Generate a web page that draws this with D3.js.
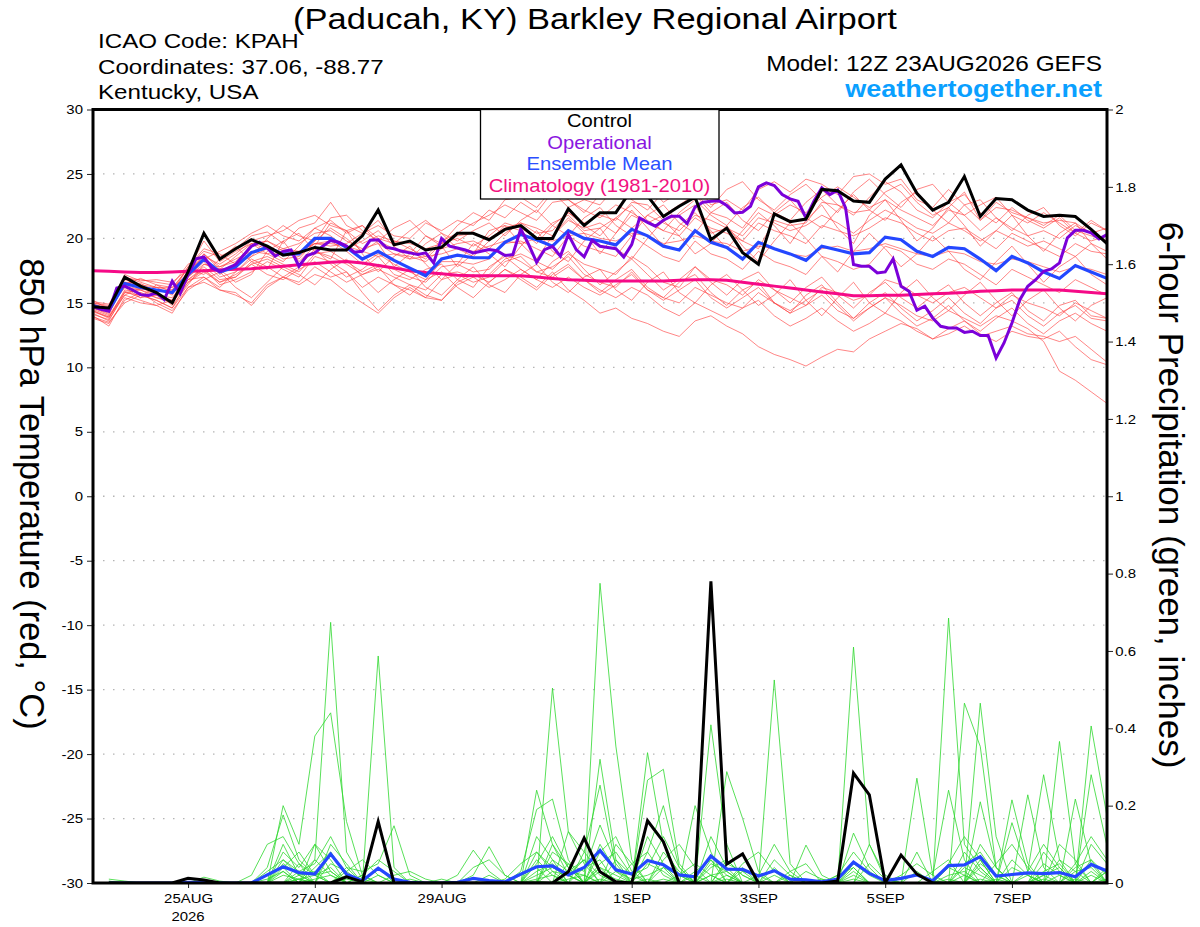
<!DOCTYPE html>
<html><head><meta charset="utf-8">
<script src="https://cdn.jsdelivr.net/npm/d3@7"></script>
<style>body{margin:0;background:#fff}svg{display:block}text{font-family:"Liberation Sans",Arial,Helvetica,sans-serif}</style>
</head><body><svg id="c" width="1200" height="927"></svg>
<script>
// ---------------- DATA ----------------
const modelStartUTC = Date.UTC(2026, 7, 23, 12);   // 12Z 23AUG2026, 6-hourly steps
const xTickDates = [[2026,7,25],[2026,7,27],[2026,7,29],[2026,8,1],[2026,8,3],[2026,8,5],[2026,8,7]];
const xTickLabels = ["25AUG","27AUG","29AUG","1SEP","3SEP","5SEP","7SEP"];
const tempTicks = [-30,-25,-20,-15,-10,-5,0,5,10,15,20,25,30];
const tempGrid = [-25,-20,-15,-10,-5,0,5,10,15,20,25];
const precipTicks = [0,0.2,0.4,0.6,0.8,1,1.2,1.4,1.6,1.8,2];

const controlTemp = [14.7,14.6,17.0,16.3,15.8,15.0,17.4,20.4,18.4,19.2,
 19.9,19.4,18.7,18.9,19.3,19.1,19.1,20.2,22.2,19.5,
 19.8,19.1,19.3,20.4,20.4,19.9,20.7,21.0,20.0,20.0,
 22.3,21.0,22.0,22.0,23.8,23.3,21.7,22.5,23.2,19.9,
 20.8,18.9,18.0,21.9,21.3,21.5,23.8,23.7,22.9,22.8,
 24.6,25.7,23.5,22.2,22.8,24.8,21.7,23.1,23.0,22.2,
 21.7,21.8,21.7,20.7,19.6];
const meanTemp = [14.8,14.4,16.5,16.2,16.0,15.8,17.2,18.4,17.4,17.8,
 18.9,19.3,18.8,18.8,20.0,20.0,19.3,18.4,19.0,18.3,
 17.7,17.1,18.4,18.7,18.5,18.5,19.7,20.3,19.9,19.4,
 20.6,20.0,19.8,19.5,20.7,20.2,19.4,19.1,20.6,19.7,
 19.3,18.4,19.7,19.2,18.8,18.3,19.4,19.1,18.8,18.9,
 20.1,19.9,19.0,18.6,19.3,19.2,18.4,17.5,18.6,18.1,
 17.4,16.9,17.9,17.4,16.9];
// operational run is 3-hourly
const operationalTemp = [14.7,14.5,14.35,16.16,16.3,16.0,15.64,15.57,15.77,15.25,
 16.68,15.72,17.2,18.41,18.56,17.71,17.45,17.7,17.97,18.7,
 19.39,19.7,19.26,18.62,19.0,19.1,17.84,18.67,18.88,19.4,
 19.83,19.7,19.4,18.93,19.0,19.86,19.9,19.3,19.2,19.0,
 18.88,18.75,18.88,18.1,19.99,19.4,19.26,19.1,18.88,19.0,
 19.13,19.05,18.67,18.75,20.74,19.52,18.15,19.13,19.39,18.62,
 20.3,19.13,18.57,19.86,19.39,19.3,19.2,18.56,19.52,21.59,
 21.25,20.95,21.41,21.72,21.72,21.15,22.44,22.8,22.88,22.93,
 22.55,21.98,22.03,22.5,24.0,24.31,24.1,23.4,23.07,22.88,
 21.59,22.88,23.92,23.4,23.74,22.37,17.97,17.84,17.84,17.32,
 17.4,18.41,16.29,15.9,14.43,14.74,13.83,13.18,13.05,13.05,
 12.71,12.8,12.46,12.46,10.73,11.89,13.44,15.25,16.29,16.8,
 17.45,17.63,18.1,20.04,20.63,20.63,20.43,19.96,20.3];
const climatologyTemp = [17.5,17.45,17.4,17.35,17.35,17.4,17.45,17.5,17.55,17.6,
 17.65,17.75,17.85,17.95,18.05,18.15,18.2,18.1,17.9,17.7,
 17.5,17.35,17.25,17.15,17.1,17.1,17.1,17.1,17.0,16.9,
 16.8,16.75,16.7,16.7,16.7,16.7,16.7,16.75,16.8,16.8,
 16.75,16.6,16.45,16.3,16.15,16.0,15.85,15.7,15.55,15.55,
 15.6,15.6,15.65,15.7,15.75,15.8,15.9,15.95,16.0,16.0,
 16.0,16.0,15.9,15.8,15.7];

// ensemble members, 850 hPa temperature
const memT01 = [15.0,14.8,17.0,16.6,16.2,16.0,17.8,19.0,18.6,19.2, 20.2,20.5,19.6,20.8,21.2,22.8,21.0,20.4,21.0,20.2, 20.0,21.2,20.6,21.4,21.0,22.2,21.6,22.8,22.0,23.6, 22.4,23.0,22.6,24.0,23.2,24.2,22.8,23.6,24.4,22.6, 23.0,22.2,23.8,24.4,23.6,24.6,24.2,23.4,24.8,25.0, 24.2,24.6,23.0,22.4,23.8,22.6,21.4,22.8,22.0,21.6, 21.0,21.8,20.6,20.2,19.8];
const memT02 = [14.2,13.6,15.8,15.6,15.2,14.6,16.6,17.6,16.4,16.8, 17.4,18.2,17.6,17.0,18.6,18.2,17.4,16.2,17.0,16.4, 16.0,15.4,16.8,17.2,16.6,17.0,18.2,18.6,17.4,17.8, 18.6,17.2,16.6,16.2,17.4,16.0,15.4,15.0,16.2,15.6, 15.0,14.6,15.8,15.0,14.2,14.8,15.6,14.4,13.8,14.6, 15.4,14.8,14.0,13.6,14.4,13.8,13.2,14.0,13.6,13.0, 12.0,9.7,9.0,8.1,7.2];
const memT03 = [14.0,13.2,15.4,15.0,14.8,14.2,16.2,17.0,16.0,15.6, 15.0,16.4,17.0,16.6,17.8,17.0,17.4,15.8,14.4,15.6, 16.4,15.6,15.2,16.6,17.2,16.6,17.6,17.0,16.2,17.4, 16.0,15.2,14.2,14.6,13.8,13.4,12.8,12.4,13.6,14.0, 13.2,12.6,11.6,11.0,10.6,10.1,10.8,11.4,11.2,12.2, 12.8,13.4,13.0,12.2,12.6,13.2,12.4,12.8,13.2,12.6, 12.4,12.0,12.4,11.4,10.4];
const memT04 = [14.9,14.6,16.8,16.4,16.2,15.6,17.4,18.8,17.8,18.2, 19.4,19.8,19.2,19.6,20.4,20.6,19.8,19.2,19.6,18.8, 18.6,18.2,19.2,19.6,19.8,19.2,20.4,21.2,20.8,20.2, 21.4,20.8,21.2,20.4,21.8,21.2,20.6,20.2,21.6,20.8, 20.4,19.8,21.2,20.6,20.2,19.6,21.0,20.6,20.2,20.8, 21.6,21.2,20.4,19.8,20.6,20.8,20.0,19.2,20.4,19.8, 19.2,18.6,19.6,19.0,18.8];
const memT05 = [14.4,13.8,16.0,15.8,15.4,15.2,16.8,17.8,16.8,17.0, 18.0,18.4,17.8,18.0,19.0,18.6,18.0,17.2,17.6,17.0, 16.4,16.0,17.2,17.4,17.0,17.2,18.4,18.8,18.2,17.6, 18.8,18.0,17.6,17.2,18.6,17.8,16.6,16.2,17.8,16.8, 16.4,15.6,16.8,16.0,15.4,14.8,16.2,15.8,15.2,15.6, 16.8,16.4,15.6,15.0,15.8,16.2,15.4,14.6,15.6,15.0, 14.6,14.0,15.0,14.4,13.8];
const memT06 = [15.1,14.9,16.9,16.8,16.6,16.4,18.0,18.6,18.0,18.8, 19.8,20.2,20.6,21.4,21.8,21.0,20.6,19.6,20.2,19.8, 19.2,18.6,19.8,20.4,21.2,21.8,22.6,22.0,21.4,22.8, 23.0,22.2,21.6,22.6,22.0,21.2,21.8,22.6,23.4,22.0, 21.6,20.8,22.4,21.8,22.6,22.0,23.2,24.0,23.2,22.4, 23.0,22.2,21.6,21.0,22.2,21.8,20.6,21.6,20.8,20.2, 20.6,20.0,21.0,20.4,20.8];
const memT07 = [14.6,14.2,16.4,16.0,15.6,15.4,17.0,18.2,17.0,17.4, 18.6,19.2,18.4,18.6,19.6,19.8,19.0,18.0,18.8,18.0, 17.4,16.8,18.2,18.2,18.0,18.4,19.6,19.8,19.2,18.6, 20.2,19.4,19.0,18.6,20.2,19.4,18.6,18.2,19.8,18.8, 18.4,17.6,19.0,18.2,17.8,17.2,18.6,18.2,17.6,18.0, 19.4,19.0,18.0,17.6,18.4,18.0,17.2,16.4,17.6,17.0, 16.4,15.8,16.8,16.2,15.6];
const memT08 = [14.3,13.9,15.6,16.2,15.8,14.8,16.4,18.0,17.6,16.6, 17.2,19.0,19.8,18.2,19.4,21.2,20.6,18.8,17.4,18.6, 19.4,18.0,16.8,18.0,19.6,18.8,17.8,19.4,20.6,19.0, 18.2,19.8,20.8,19.2,18.4,20.0,21.4,20.2,18.8,19.6, 21.0,19.4,18.2,19.8,21.2,20.0,18.6,17.4,19.0,20.4, 19.2,17.8,18.8,20.2,19.0,17.6,16.8,18.2,19.4,18.0, 16.6,17.8,18.6,17.2,16.4];
const memT09 = [15.2,14.5,16.2,15.4,16.4,16.2,17.6,17.2,18.4,19.4, 18.2,17.6,19.8,20.4,19.0,18.4,20.6,21.0,19.6,17.8, 18.8,20.2,19.4,17.8,18.8,20.6,21.0,19.6,18.4,20.2, 21.6,20.4,18.8,20.4,22.2,20.8,19.4,21.0,22.0,20.6, 19.2,20.6,22.0,21.0,19.6,21.4,22.6,20.8,19.6,21.8, 23.0,21.4,19.8,20.8,22.4,21.0,19.4,20.6,21.8,20.2, 19.0,20.4,21.2,19.6,18.4];
const memT10 = [13.8,13.4,15.2,15.8,15.0,14.4,16.0,16.8,17.4,16.2, 15.4,16.6,17.8,17.2,16.4,17.6,18.4,17.0,15.8,16.8, 17.6,16.2,15.6,16.8,17.8,16.4,15.8,17.2,18.0,16.6, 15.8,17.0,17.6,16.0,15.2,16.6,17.4,15.8,15.0,16.4, 17.2,16.0,14.8,15.6,16.8,15.2,14.0,15.4,16.6,15.0, 14.2,15.8,16.8,15.4,14.4,15.6,16.6,15.2,14.0,15.2, 16.0,14.6,13.6,14.8,15.4];
const memT11 = [14.7,14.3,16.6,16.5,15.9,16.0,17.4,18.6,17.2,18.0, 19.6,18.8,18.2,19.4,20.8,20.2,19.2,19.8,20.6,19.4, 18.4,19.6,20.4,19.2,18.6,19.8,21.0,20.6,19.6,21.0, 22.0,21.0,20.2,21.6,22.6,21.4,20.6,22.0,23.0,21.8, 21.0,22.4,23.2,22.0,21.4,22.8,23.8,22.6,21.8,23.2, 24.4,23.6,22.2,21.6,22.8,23.4,22.0,21.2,22.4,21.4, 20.8,21.6,20.4,19.8,20.2];
const memT12 = [14.5,14.0,15.9,15.4,15.6,15.0,16.6,17.4,16.6,17.2, 18.0,17.2,16.8,17.6,18.2,17.4,16.6,17.2,17.8,16.4, 15.6,16.8,17.4,16.2,15.4,16.6,17.6,16.8,16.0,17.2, 18.0,16.8,15.8,16.8,17.6,16.2,15.4,16.6,17.2,15.8, 14.8,16.0,16.6,15.0,14.2,15.6,16.4,15.0,13.8,15.0, 15.8,14.6,13.6,14.4,15.4,14.2,13.4,14.6,15.2,14.0, 13.2,14.2,14.8,13.8,13.6];
const memT13 = [14.8,14.6,16.2,16.0,16.2,16.2,17.0,18.0,17.8,18.4, 19.0,18.8,19.2,19.0,19.6,19.6,19.4,19.0,18.6,18.8, 18.4,18.6,18.8,19.2,19.0,19.4,19.8,19.6,20.0,19.8, 20.2,20.4,20.0,19.8,20.4,20.2,19.6,19.8,20.2,19.8, 19.6,19.0,19.4,19.2,18.8,18.6,19.2,19.4,19.0,19.2, 19.6,19.2,18.8,18.6,19.0,18.8,18.2,18.0,18.4,18.2, 17.8,17.4,17.8,17.6,17.2];
const memT14 = [15.0,14.7,16.4,16.9,16.4,15.8,17.8,19.2,18.8,18.0, 18.6,20.0,21.0,20.2,19.8,21.6,21.8,20.6,19.8,20.8, 21.4,20.2,19.6,21.0,22.0,21.4,23.0,23.2,22.4,23.8, 23.0,22.0,23.4,24.2,23.0,22.2,23.6,24.6,23.4,22.4, 23.8,24.4,23.0,22.2,23.4,24.2,23.0,22.0,23.6,24.6, 23.4,22.4,23.8,24.2,22.8,21.8,22.6,23.2,21.8,21.2, 22.0,21.2,20.4,21.4,20.6];
const memT15 = [14.1,13.7,15.6,15.2,14.8,15.2,16.8,17.0,16.2,17.4, 18.4,17.8,17.0,17.8,19.2,18.0,17.0,17.6,18.6,17.2, 16.8,17.6,18.0,16.8,16.2,17.8,18.6,17.6,16.8,18.2, 19.0,17.6,16.4,17.4,18.4,17.2,16.0,16.8,17.8,16.6, 15.6,16.8,17.4,16.0,15.0,16.2,17.0,15.6,14.6,15.8, 16.6,15.4,14.6,15.6,16.4,15.0,14.0,15.0,15.8,14.4, 13.6,14.8,15.2,14.0,13.8];
const memT16 = [14.9,14.5,17.2,16.7,16.8,16.6,17.6,18.4,19.0,19.6, 20.4,21.0,20.2,19.8,20.8,21.4,20.4,21.0,20.0,19.6, 20.6,21.4,20.4,19.8,20.6,21.2,20.2,21.4,22.2,21.0, 20.2,21.6,22.4,21.0,20.2,21.8,22.6,21.2,20.4,22.0, 22.8,21.4,20.6,22.0,23.0,21.6,20.8,22.2,23.4,22.2, 21.4,22.8,23.6,22.2,21.2,22.6,23.0,21.6,20.6,21.8, 22.4,21.0,20.2,21.2,20.6];
const memT17 = [13.9,13.5,15.0,15.6,15.2,14.6,16.2,16.6,16.0,15.8, 14.8,16.2,17.0,16.4,17.2,16.8,15.8,15.0,14.2,15.4, 16.2,15.4,15.2,16.4,17.0,16.2,16.8,17.6,16.8,16.2, 17.0,16.2,15.6,16.4,17.2,16.0,15.2,16.0,16.8,15.4, 14.6,15.4,16.2,15.0,14.4,15.2,16.0,14.8,13.6,14.6, 15.4,14.2,13.2,13.8,14.8,13.6,12.8,13.8,14.6,13.4, 12.6,13.6,14.2,13.4,12.8];
const memT18 = [14.6,14.1,16.6,16.3,16.0,15.9,17.0,18.8,17.6,18.6, 19.6,19.8,19.0,18.4,19.8,20.8,20.0,19.0,19.8,19.2, 19.0,18.4,19.6,20.0,19.4,20.2,21.2,20.8,20.0,21.2, 21.8,20.6,20.8,21.6,20.8,21.8,21.2,20.6,21.8,21.4, 20.8,20.2,21.6,21.2,20.6,21.0,21.8,21.2,20.4,21.4, 22.2,21.6,20.8,20.4,21.2,20.6,19.8,20.6,20.0,19.4, 19.8,19.2,18.6,19.6,19.0];
const memT19 = [14.4,13.9,15.8,16.0,15.4,15.0,16.8,17.6,16.6,17.0, 18.2,18.6,18.0,17.4,18.8,19.0,18.2,17.4,18.0,17.6, 17.0,16.6,17.8,18.0,17.4,17.6,18.8,18.2,17.4,17.0, 17.8,16.8,16.0,15.4,16.2,15.6,14.6,14.0,15.0,14.4, 13.8,14.6,15.2,14.0,13.2,13.8,14.6,13.6,12.8,13.4, 14.2,13.6,12.8,12.2,13.0,13.6,12.6,12.0,12.8,12.4, 12.2,12.8,11.6,10.6,10.2];
const memT20 = [14.8,14.4,16.9,16.2,15.6,15.2,17.6,19.8,18.2,19.0, 19.6,19.2,18.8,19.0,19.6,19.4,19.6,20.4,21.4,19.8, 19.6,19.2,19.6,20.2,20.4,20.0,20.8,21.2,20.4,20.6, 22.0,21.2,21.8,21.4,22.8,22.6,21.4,21.8,22.6,20.4, 20.8,19.8,19.2,21.4,21.0,21.2,22.8,22.6,22.0,22.2, 23.6,24.2,22.8,21.8,22.4,23.6,21.4,22.4,22.2,21.6, 21.2,21.4,21.2,20.4,19.8];
const tempMembers = [memT01,memT02,memT03,memT04,memT05,memT06,memT07,memT08,memT09,memT10,
                     memT11,memT12,memT13,memT14,memT15,memT16,memT17,memT18,memT19,memT20];

// 6-hour precipitation (first value = 6 h after model start)
const controlPrecip = [0,0,0,0,0,0.012,0.008,0, 0,0,0,0,0,0,0,0.016, 0.003,0.159,0,0,0,0,0,0, 0,0,0,0,0,0.029,0.116,0.029, 0.003,0,0.161,0.107,0,0,0.78,0.049, 0.075,0,0,0,0,0,0.005,0.284, 0.228,0,0.072,0.023,0,0,0,0, 0,0,0,0,0,0,0,0];
const meanPrecip = [0,0,0,0,0,0.002,0.002,0, 0,0,0.021,0.042,0.027,0.023,0.075,0.023, 0.006,0.038,0.01,0.002,0,0,0.002,0.012, 0.006,0.003,0.023,0.042,0.044,0.021,0.04,0.084, 0.034,0.023,0.058,0.047,0.021,0.016,0.07,0.036, 0.035,0.018,0.032,0.01,0.008,0.003,0.01,0.054, 0.025,0.006,0.012,0.021,0.006,0.045,0.047,0.068, 0.018,0.022,0.026,0.024,0.027,0.016,0.048,0.031];
const memP01 = [0,0,0,0,0,0,0,0, 0,0,0,.05,.02,.06,.674,.08, .01,0,0,0,0,0,0,0, 0,0,0,.05,.12,.04,0,.1, .03,0,0,0,0,0,.06,.02, 0,0,0,0,0,0,0,.04, 0,0,0,0,0,.685,.1,.04, 0,0,0,.05,.02,0,0,0];
const memP02 = [0,0,0,0,0,0,0,0, 0,0,0,.2,.1,.38,.44,.159, .02,0,0,0,0,0,0,.02, .094,.02,0,0,.504,.133,.05,0, 0,0,.08,.2,.04,0,0,0, 0,0,.525,.05,0,0,0,0, 0,0,0,.08,0,0,0,.465, .12,0,0,0,0,0,.28,.096];
const memP03 = [0,0,0,0,0,0,0,0, 0,0,.04,.176,.06,.02,0,0, 0,.587,.04,0,0,0,0,0, 0,0,0,.24,.1,.02,0,.775, .354,.06,0,0,0,0,.409,.1, 0,0,0,0,0,0,0,.61, .1,.01,0,0,0,0,.465,.353, .04,0,0,0,.366,.05,0,0];
const memP04 = [0,0,0,0,0,0,0,0, 0,.02,.1,.12,.05,0,0,.04, .03,.05,.148,.02,0,0,0,0, 0,0,.03,.19,.217,.06,0,.32, .06,0,.337,.1,.02,0,0,.288, .167,.03,0,0,0,0,0,0, 0,0,0,.271,.02,.24,.06,0, 0,.215,.05,0,0,0,.406,.172];
const memP05 = [.01,.005,0,0,0,0,0,0, 0,0,0,.08,.04,.1,.06,0, 0,0,0,0,0,0,.02,.085, .03,0,0,0,0,.133,.08,.253, .04,0,.266,.294,.05,0,0,0, 0,0,0,0,.098,.02,0,0, 0,0,0,0,0,0,0,.21, .04,0,.228,.04,0,.217,.05,0];
const memP06 = [0,0,0,0,0,0,.015,.005, 0,0,0,0,.03,.05,.12,.04, 0,0,0,0,0,0,0,0, 0,0,0,.08,.04,.02,.06,0, 0,0,0,0,0,.2,.08,0, 0,0,0,0,0,0,0,.129, .04,0,0,0,0,0,0,0, 0,.156,.03,.28,.06,0,0,.03];
const memP07 = [0,0,0,0,0,0,0,0, 0,0,.03,.06,.02,0,.1,.05, 0,0,0,0,0,0,0,0, 0,0,0,0,.06,.03,.02,0, .1,.05,0,.06,.1,.04,0,0, .05,.08,.03,0,0,0,0,0, .1,.02,0,0,0,0,.08,.03, 0,0,0,0,.1,.06,0,0];
const memP08 = [0,0,0,0,0,0,0,0, 0,0,0,.04,.08,.02,0,0, .02,.06,.03,0,0,0,0,0, 0,0,0,.12,.06,0,0,.08, .12,.03,0,0,0,0,.05,.03, 0,0,.06,.02,0,0,0,0, 0,0,0,0,0,.05,.12,.06, 0,0,0,.08,.03,0,.1,.05];
const memP09 = [0,0,0,0,0,0,0,0, 0,0,.01,.03,0,.04,.08,.02, 0,0,0,0,0,0,0,0, 0,.01,.05,.08,.03,0,.04,.06, 0,0,.12,.05,0,0,0,.06, .02,0,0,0,0,0,.02,.08, .03,0,0,0,0,0,0,.1, .04,0,0,0,0,.05,.12,.06];
const memP10 = [0,0,0,0,0,0,0,0, 0,0,0,0,.05,.02,.04,0, 0,0,.02,.03,.01,0,0,0, 0,0,0,0,.08,.05,0,.04, .02,0,0,.08,.03,0,.12,.04, 0,0,0,.03,.05,0,0,0, 0,0,0,0,.03,.06,0,0, .05,.1,.04,0,.06,.03,0,0];
const memP11 = [0,0,0,0,0,0,0,0, 0,0,0,.1,.02,0,0,.03, .06,.02,0,0,0,0,0,.04, .06,.02,0,.03,.05,0,.08,.03, 0,.05,.08,.02,0,0,0,0, .04,0,0,0,0,0,0,0, 0,0,.02,.05,.02,0,0,.06, 0,0,.03,.1,.04,0,0,0];
const memP12 = [0,0,0,0,0,0,0,0, 0,0,0,0,0,.1,.03,0, 0,.02,0,0,0,0,0,0, 0,0,.02,.04,0,.05,.03,.15, .05,0,0,0,0,.03,.06,0, 0,.02,.1,.03,0,0,0,.05, .02,0,0,0,0,0,.04,.02, 0,0,0,0,0,0,.06,.02];
const memP13 = [0,0,0,0,0,0,0,0, 0,0,0,.06,.03,0,.08,.02, 0,0,0,0,0,.01,0,0, 0,0,0,0,.1,.04,0,0, .06,.02,.04,.12,.04,0,0,.05, .03,0,0,0,.03,.01,0,0, 0,0,0,0,0,.02,.03,0, 0,.06,.02,0,0,.04,.06,0];
const memP14 = [0,0,0,0,0,0,0,0, 0,0,.02,.04,0,.06,.02,0, 0,0,0,0,0,0,0,0, 0,0,0,.02,.04,.02,0,.05, .08,.02,0,0,.02,.05,.02,0, 0,0,0,0,0,0,0,.03, 0,0,0,0,0,0,0,.05, .02,0,0,.03,.05,0,0,.04];
const memP15 = [0,0,0,0,0,0,0,0, 0,0,0,0,.02,.03,0,0, 0,.04,0,0,0,0,0,0, .02,0,0,0,0,.03,.06,.02, 0,0,.05,.03,0,0,.04,.06, .02,0,.04,0,0,0,.02,.04, 0,0,0,0,0,0,.05,.08, .02,0,0,.02,.04,0,.03,0];
const memP16 = [0,0,0,0,0,0,0,0, 0,0,0,.03,0,0,.05,.03, 0,0,0,.01,0,0,0,0, 0,0,0,.06,.02,0,0,.04, 0,0,0,.04,.02,0,.02,.03, 0,0,0,.02,0,0,0,0, .05,.01,0,0,0,.04,.02,0, 0,.04,.02,0,0,.03,.04,0];
const memP17 = [0,0,0,0,0,0,0,0, 0,0,0,0,.01,.02,.03,0, .02,0,0,0,0,0,0,0, 0,0,0,0,.03,.02,0,0, .03,.01,.02,.04,0,0,0,0, .03,.02,0,0,0,0,0,.02, 0,0,0,.03,0,0,0,.04, 0,0,0,.02,0,0,0,.03];
const memP18 = [0,0,0,0,0,0,0,0, 0,0,0,.02,.01,0,0,.02, 0,0,0,0,0,0,0,0, 0,0,0,.01,.02,0,0,.03, .01,0,0,0,0,.02,0,.02, 0,0,.02,0,0,0,0,0, 0,0,0,0,0,0,.02,0, 0,0,.02,0,.02,0,.02,0];
const memP19 = [.005,0,0,0,0,0,0,0, 0,0,0,0,0,.01,.02,0, 0,0,0,0,0,0,0,0, 0,0,0,0,0,.01,.02,0, 0,0,0,.01,0,0,.02,0, 0,0,0,0,0,.01,0,0, 0,0,0,0,0,.01,0,0, .01,0,0,0,0,.01,0,0];
const memP20 = [0,0,0,0,0,0,0,.003, 0,0,0,0,.01,0,0,.01, 0,0,0,0,0,0,0,0, 0,0,0,.005,0,0,0,.01, 0,0,.01,0,0,0,0,.01, 0,0,0,0,0,0,0,.01, 0,0,0,0,0,0,0,.01, 0,0,0,.01,0,0,0,.01];
const precipMembers = [memP01,memP02,memP03,memP04,memP05,memP06,memP07,memP08,memP09,memP10,
                       memP11,memP12,memP13,memP14,memP15,memP16,memP17,memP18,memP19,memP20];

// ---------------- DRAW ----------------
const svg = d3.select("#c");
const L = 93, R = 1107, T = 109.5, B = 883;
const SX = 1.15; // horizontal glyph stretch seen in the reference
const HOUR = 3600e3;
const t6 = i => new Date(modelStartUTC + i * 6 * HOUR);
const t3 = j => new Date(modelStartUTC + j * 3 * HOUR);

const x = d3.scaleUtc().domain([t6(0), t6(64)]).range([L, R]);
const yT = d3.scaleLinear().domain([-30, 30]).range([B, T]);
const yP = d3.scaleLinear().domain([0, 2]).range([B, T]);

svg.append("rect").attr("width", 1200).attr("height", 927).attr("fill", "#fff");
svg.append("defs").append("clipPath").attr("id", "plot")
  .append("rect").attr("x", L).attr("y", T).attr("width", R - L).attr("height", B - T);

// grid
svg.append("g").selectAll("line").data(tempGrid).join("line")
  .attr("x1", L).attr("x2", R).attr("y1", d => yT(d)).attr("y2", d => yT(d))
  .attr("stroke", "#b4b4b4").attr("stroke-width", 1.3).attr("stroke-dasharray", "1.5,8.5");

const g = svg.append("g").attr("clip-path", "url(#plot)");
const lineT = d3.line().x((d, i) => x(t6(i))).y(d => yT(d));
const lineOp = d3.line().x((d, i) => x(t3(i))).y(d => yT(d));
const lineP = d3.line().x((d, i) => x(t6(i + 1))).y(d => yP(d));

g.append("g").selectAll("path").data(tempMembers).join("path")
  .attr("d", lineT).attr("fill", "none").attr("stroke", "#ff3c3c")
  .attr("stroke-width", 0.8).attr("stroke-opacity", 0.78);
g.append("g").selectAll("path").data(precipMembers).join("path")
  .attr("d", lineP).attr("fill", "none").attr("stroke", "#2ed82e")
  .attr("stroke-width", 0.8);

g.append("path").datum(climatologyTemp).attr("d", lineT).attr("fill", "none")
  .attr("stroke", "#f50a87").attr("stroke-width", 3);
g.append("path").datum(meanTemp).attr("d", lineT).attr("fill", "none")
  .attr("stroke", "#2447ff").attr("stroke-width", 3.2);
g.append("path").datum(operationalTemp).attr("d", lineOp).attr("fill", "none")
  .attr("stroke", "#7b00d9").attr("stroke-width", 3);
g.append("path").datum(controlTemp).attr("d", lineT).attr("fill", "none")
  .attr("stroke", "#000").attr("stroke-width", 3);
g.append("path").datum(meanPrecip).attr("d", lineP).attr("fill", "none")
  .attr("stroke", "#2447ff").attr("stroke-width", 3.2);
g.append("path").datum(controlPrecip).attr("d", lineP).attr("fill", "none")
  .attr("stroke", "#000").attr("stroke-width", 3);

// axes
const font = '"Liberation Sans",Arial,Helvetica,sans-serif';
const ax = svg.append("g").attr("transform", `translate(${L},0)`)
  .call(d3.axisLeft(yT).tickValues(tempTicks).tickFormat(d => String(d)).tickSize(6).tickPadding(2.7));
const ay = svg.append("g").attr("transform", `translate(${R},0)`)
  .call(d3.axisRight(yP).tickValues(precipTicks).tickFormat(d3.format("~g")).tickSize(6).tickPadding(1.2));
const xTicks = xTickDates.map(d => new Date(Date.UTC(d[0], d[1], d[2])));
const axb = svg.append("g").attr("transform", `translate(0,${B})`)
  .call(d3.axisBottom(x).tickValues(xTicks).tickFormat((d, i) => xTickLabels[i]).tickSize(5).tickPadding(6));
[ax, ay, axb].forEach(a => {
  a.select(".domain").remove();
  a.selectAll(".tick line").attr("stroke", "#222").attr("stroke-width", 1);
  a.selectAll(".tick text").attr("font-family", font).attr("font-size", 13).attr("fill", "#000")
    .attr("transform", `scale(${SX},1)`);
});
axb.selectAll(".tick text").attr("x", 0);
svg.append("text").attr("transform", `translate(${x(xTicks[0])},921) scale(${SX},1)`)
  .attr("text-anchor", "middle").attr("font-size", 13).text("2026");

// frame
svg.append("rect").attr("x", L).attr("y", T).attr("width", R - L).attr("height", B - T)
  .attr("fill", "none").attr("stroke", "#000").attr("stroke-width", 3);

// legend
const lg = svg.append("g");
lg.append("rect").attr("x", 480.5).attr("y", T).attr("width", 238.5).attr("height", 89.5)
  .attr("fill", "#fff").attr("stroke", "#000").attr("stroke-width", 1.3);
const legendItems = [["Control", "#000", 127], ["Operational", "#8a16e0", 148.5],
  ["Ensemble Mean", "#2a4eff", 170], ["Climatology (1981-2010)", "#f2117f", 191.5]];
lg.selectAll("text").data(legendItems).join("text")
  .attr("transform", d => `translate(599.5,${d[2]}) scale(${SX},1)`)
  .attr("text-anchor", "middle").attr("font-size", 17.6).attr("fill", d => d[1]).text(d => d[0]);

// texts
function htext(xx, yy, str, size, anchor, color, weight) {
  return svg.append("text").attr("transform", `translate(${xx},${yy}) scale(${SX},1)`)
    .attr("text-anchor", anchor || "start").attr("font-size", size)
    .attr("fill", color || "#000").attr("font-weight", weight || "normal").text(str);
}
htext(595, 29, "(Paducah, KY) Barkley Regional Airport", 30, "middle");
htext(98, 48, "ICAO Code: KPAH", 21);
htext(98, 73.5, "Coordinates: 37.06, -88.77", 21);
htext(98, 99, "Kentucky, USA", 21);
htext(1102, 71, "Model: 12Z 23AUG2026 GEFS", 21.2, "end");
htext(1102, 97, "weathertogether.net", 23.5, "end", "#0aa0ff", "bold");

svg.append("text").attr("transform", "translate(20,494) rotate(90)")
  .attr("text-anchor", "middle").attr("font-size", 34.5).text("850 hPa Temperature (red, °C)");
svg.append("text").attr("transform", "translate(1159,495) rotate(90)")
  .attr("text-anchor", "middle").attr("font-size", 35).text("6-hour Precipitation (green, inches)");
</script></body></html>
